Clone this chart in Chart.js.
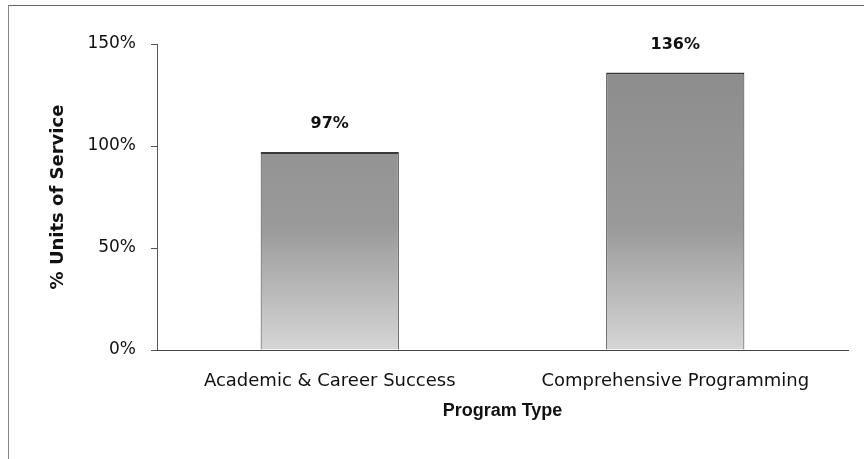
<!DOCTYPE html>
<html>
<head>
<meta charset="utf-8">
<script src="https://cdn.jsdelivr.net/npm/chart.js@4/dist/chart.umd.min.js"></script>
<style>
  html, body { margin: 0; padding: 0; background: #fff; }
  #wrap { position: relative; width: 864px; height: 459px; overflow: hidden; }
  #frame { position: absolute; left: 8px; top: 5px; width: 870px; height: 470px;
           border-top: 1px solid #666; border-left: 1px solid #888; }
  canvas { position: absolute; left: 0; top: 0; }
</style>
</head>
<body>
<div id="wrap">
  <div id="frame"></div>
  <canvas id="chart" width="864" height="459"></canvas>
</div>
<script>
const categories = ['Academic & Career Success', 'Comprehensive Programming'];
const unitsOfService = [97, 136];
const yTicks = [0, 50, 100, 150];

const fontFamily = '"DejaVu Sans", Verdana, sans-serif';

// etiquetas de valor sobre cada barra
const valueLabels = {
  id: 'valueLabels',
  afterDatasetsDraw(chart) {
    const ctx = chart.ctx;
    const meta = chart.getDatasetMeta(0);
    ctx.save();
    ctx.font = '600 16px ' + fontFamily;
    ctx.fillStyle = '#111';
    ctx.textAlign = 'center';
    ctx.textBaseline = 'middle';
    meta.data.forEach((bar, i) => {
      ctx.fillText(unitsOfService[i] + '%', bar.x, bar.y - 28);
    });
    ctx.restore();
  }
};

const ctx = document.getElementById('chart');
const g = ctx.getContext('2d');

new Chart(ctx, {
  type: 'bar',
  data: {
    labels: categories,
    datasets: [{
      data: unitsOfService,
      backgroundColor: (c) => {
        const area = c.chart.chartArea;
        if (!area) { return '#aaa'; }
        const grad = g.createLinearGradient(0, area.top, 0, area.bottom);
        grad.addColorStop(0, '#8a8a8a');
        grad.addColorStop(0.6, '#9a9a9a');
        grad.addColorStop(1, '#d6d6d6');
        return grad;
      },
      borderColor: '#3a3a3a',
      borderWidth: { top: 2, left: 1, right: 1, bottom: 0 },
      borderSkipped: 'bottom',
      barPercentage: 0.4,
      categoryPercentage: 1
    }]
  },
  options: {
    responsive: false,
    animation: false,
    events: [],
    layout: { padding: { left: 44, top: 44, right: 16, bottom: 33 } },
    plugins: {
      legend: { display: false },
      tooltip: { enabled: false }
    },
    scales: {
      y: {
        min: 0,
        max: 150,
        afterBuildTicks: (axis) => { axis.ticks = yTicks.map(v => ({ value: v })); },
        afterFit: (axis) => { axis.width = 113; },
        border: { color: '#555', width: 1 },
        grid: { drawOnChartArea: false, tickLength: 6, color: '#555' },
        ticks: {
          padding: 15,
          color: '#111',
          font: { family: fontFamily, size: 17 },
          callback: (v) => v + '%'
        },
        title: {
          display: true,
          text: '% Units of Service',
          color: '#111',
          font: { family: fontFamily, size: 18, weight: 'bold' }
        }
      },
      x: {
        afterFit: (axis) => { axis.height = 76; },
        border: { color: '#444', width: 1 },
        grid: { display: false },
        ticks: {
          padding: 13,
          color: '#111',
          font: { family: fontFamily, size: 18 }
        },
        title: {
          display: true,
          text: 'Program Type',
          color: '#111',
          font: { family: '"Liberation Sans", Arial, sans-serif', size: 18, weight: 'bold' }
        }
      }
    }
  },
  plugins: [valueLabels]
});
</script>
</body>
</html>
